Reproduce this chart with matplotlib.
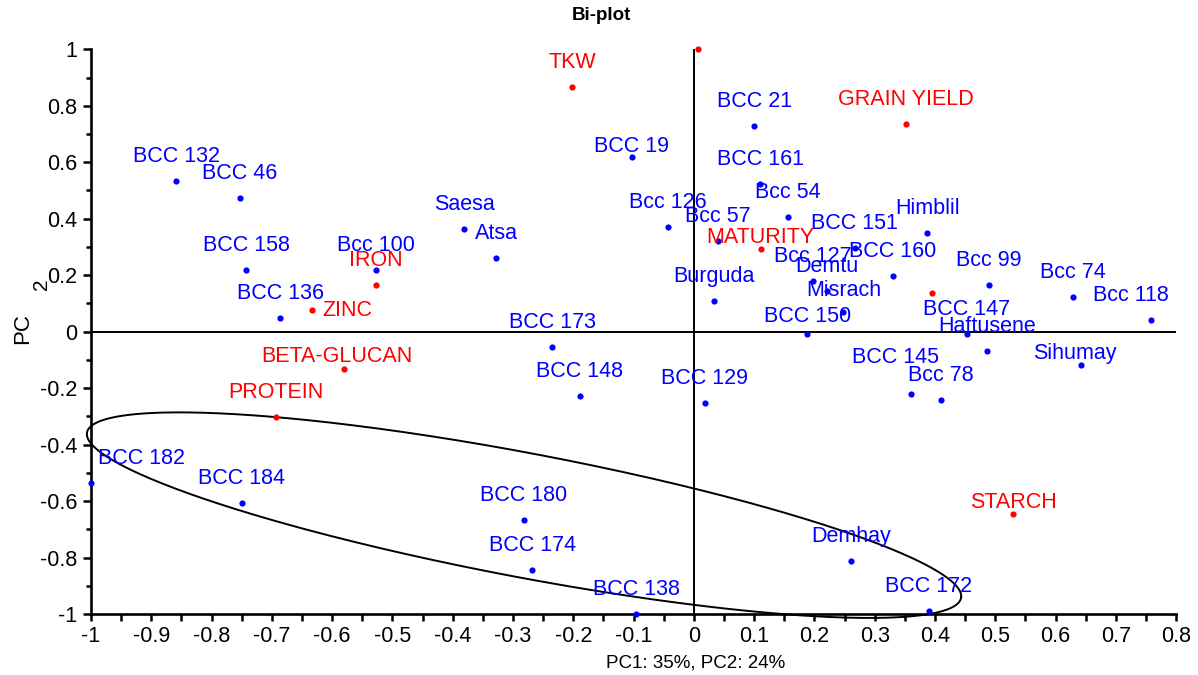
import numpy as np
import matplotlib
matplotlib.use("Agg")
import matplotlib.pyplot as plt
from matplotlib.ticker import MultipleLocator, FuncFormatter

plt.rcParams['font.family'] = ['Liberation Sans', 'DejaVu Sans']
plt.rcParams['axes.unicode_minus'] = False

# ---- data ----
genotypes = ["BCC 132", "BCC 46", "BCC 158", "BCC 136", "Bcc 100", "Saesa", "Atsa",
             "BCC 19", "Bcc 126", "Bcc 57", "BCC 21", "BCC 161", "Bcc 54", "BCC 151",
             "Bcc 127", "Demtu", "Misrach", "BCC 150", "BCC 160", "Himblil", "Bcc 99",
             "Bcc 74", "Bcc 118", "Burguda", "BCC 147", "Haftusene", "BCC 145", "Bcc 78",
             "Sihumay", "BCC 173", "BCC 148", "BCC 129", "BCC 182", "BCC 184", "BCC 180",
             "BCC 174", "BCC 138", "Demhay", "BCC 172"]
geno_x = [-0.859, -0.753, -0.743, -0.686, -0.527, -0.381, -0.328,
          -0.103, -0.043, 0.040, 0.100, 0.110, 0.156, 0.267,
          0.198, 0.221, 0.248, 0.188, 0.330, 0.387, 0.490,
          0.629, 0.758, 0.034, 0.453, 0.486, 0.360, 0.410,
          0.642, -0.235, -0.189, 0.018, -1.000, -0.750, -0.282,
          -0.268, -0.096, 0.261, 0.390]
geno_y = [0.535, 0.473, 0.218, 0.048, 0.218, 0.363, 0.261,
          0.618, 0.370, 0.321, 0.728, 0.523, 0.406, 0.296,
          0.179, 0.144, 0.069, -0.008, 0.197, 0.349, 0.165,
          0.123, 0.041, 0.108, -0.008, -0.069, -0.221, -0.242,
          -0.118, -0.055, -0.228, -0.253, -0.536, -0.607, -0.667,
          -0.845, -1.000, -0.812, -0.989]

traits = ["", "TKW", "GRAIN YIELD", "MATURITY", "IRON", "ZINC",
          "BETA-GLUCAN", "PROTEIN", "STARCH", ""]
trait_x = [0.007, -0.202, 0.352, 0.111, -0.527, -0.633, -0.580, -0.693, 0.530, 0.395]
trait_y = [1.000, 0.866, 0.735, 0.292, 0.165, 0.076, -0.133, -0.302, -0.646, 0.137]

# ---- label placement tweaks (points) ----
LABEL_DY = 13.5
label_dx = {"BCC 182": 36, "Bcc 118": -14, "BCC 145": -11, "BETA-GLUCAN": -5, "Sihumay": -4}
label_dy = {"BCC 19": 3.6, "MATURITY": 4.3, "Sihumay": 4.3, "BETA-GLUCAN": 5.0,
            "STARCH": 4.3, "BCC 145": 22.5, "BCC 150": 8.5, "Misrach": 11.3}

# ---- ellipse shape (data units) ----
ell_c = (-0.2817, -0.650)
ell_u = (0.725, -0.2930)
ell_v = (-0.0192, -0.216)

BLUE = "#0000FF"
RED = "#FF0000"
FS = 15.5

fig = plt.figure(figsize=(11.98, 6.75), dpi=100)
ax = fig.add_axes([0.0760, 0.0904, 0.9057, 0.8366])
ax.set_xlim(-1, 0.8)
ax.set_ylim(-1, 1)

for s in ["top", "right"]:
    ax.spines[s].set_visible(False)
for s in ["left", "bottom"]:
    ax.spines[s].set_linewidth(1.9)

ax.xaxis.set_major_locator(MultipleLocator(0.1))
ax.xaxis.set_minor_locator(MultipleLocator(0.05))
ax.yaxis.set_major_locator(MultipleLocator(0.2))
ax.yaxis.set_minor_locator(MultipleLocator(0.1))
fmt = FuncFormatter(lambda v, p: ("%g" % round(v, 2)) if abs(v) > 1e-9 else "0")
ax.xaxis.set_major_formatter(fmt)
ax.yaxis.set_major_formatter(fmt)
ax.tick_params(axis='x', which='major', direction='out', length=5, width=1.8, labelsize=FS, pad=4)
ax.tick_params(axis='x', which='minor', direction='out', length=5, width=1.8)
ax.tick_params(axis='y', which='major', direction='out', length=6, width=1.8, labelsize=FS, pad=4)
ax.tick_params(axis='y', which='minor', direction='out', length=3.5, width=1.8)

# zero lines
ax.axhline(0, color='black', lw=1.4, zorder=1)
ax.axvline(0, color='black', lw=1.4, zorder=1)

# ellipse
t = np.linspace(0, 2 * np.pi, 500)
ex = ell_c[0] + ell_u[0] * np.cos(t) + ell_v[0] * np.sin(t)
ey = ell_c[1] + ell_u[1] * np.cos(t) + ell_v[1] * np.sin(t)
ax.plot(ex, ey, color='black', lw=1.4, clip_on=False, zorder=2)

# points
ax.scatter(geno_x, geno_y, s=20, color=BLUE, zorder=3, clip_on=False, linewidths=0)
ax.scatter(trait_x, trait_y, s=20, color=RED, zorder=3, clip_on=False, linewidths=0)

for name, x, y in zip(genotypes, geno_x, geno_y):
    ax.annotate(name, (x, y), xytext=(label_dx.get(name, 0), label_dy.get(name, LABEL_DY)),
                textcoords='offset points', ha='center', va='baseline', color=BLUE,
                fontsize=FS, zorder=4, annotation_clip=False)
for name, x, y in zip(traits, trait_x, trait_y):
    if not name:
        continue
    if name == "ZINC":
        ax.annotate(name, (x, y), xytext=(7, 0), textcoords='offset points',
                    ha='left', va='center', color=RED, fontsize=FS, zorder=4)
    else:
        ax.annotate(name, (x, y), xytext=(label_dx.get(name, 0), label_dy.get(name, LABEL_DY)),
                    textcoords='offset points', ha='center', va='baseline', color=RED,
                    fontsize=FS, zorder=4)

# title and axis labels
fig.text(601 / 1198, 1 - 16 / 675, "Bi-plot", ha='center', va='center', fontsize=13.5, fontweight='bold')
fig.text(696 / 1198, 1 - 663 / 675, "PC1: 35%, PC2: 24%", ha='center', va='center', fontsize=13.5)
fig.text(23 / 1198, 1 - 329 / 675, "PC", ha='center', va='center', fontsize=16, rotation=90)
fig.text(42 / 1198, 1 - 284 / 675, "2", ha='center', va='center', fontsize=15, rotation=90)

fig.savefig("out.png", dpi=100)
